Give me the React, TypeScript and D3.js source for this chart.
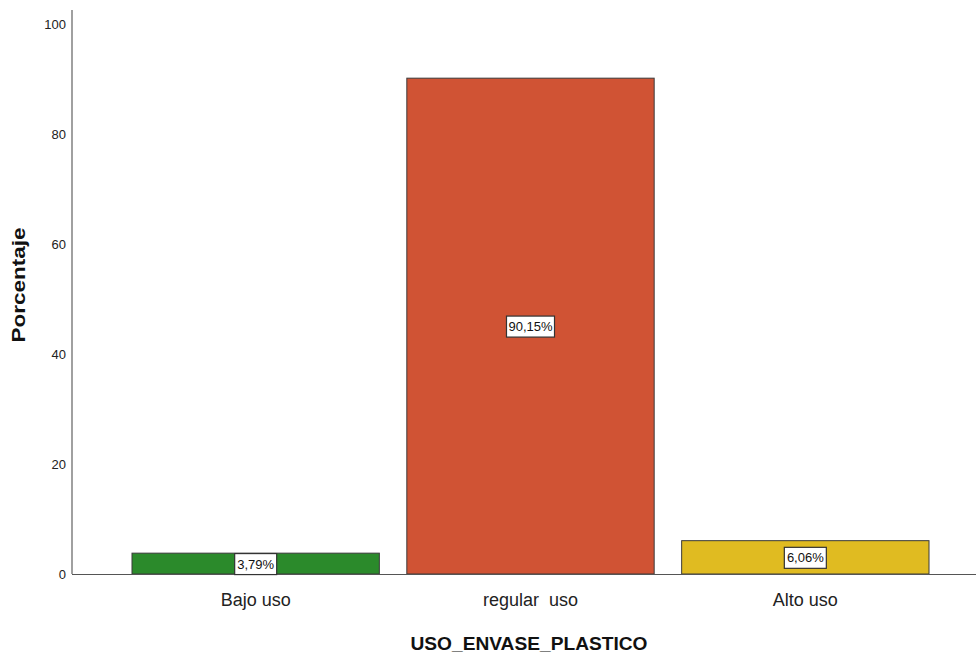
import React from "react";
import * as d3 from "d3";

const categories = ["Bajo uso", "regular  uso", "Alto uso"];
const percentages = [3.79, 90.15, 6.06];
const percentLabels = ["3,79%", "90,15%", "6,06%"];
const barColors = ["#2b8a2b", "#d05334", "#e0bb21"];
const yTicks = [0, 20, 40, 60, 80, 100];

const W = 976;
const H = 658;

export default function App() {
  const x = d3.scaleBand<string>().domain(categories).range([132, 929]).paddingInner(0.1).paddingOuter(0);
  const y = d3.scaleLinear().domain([0, 100]).range([574, 24]);
  const axisX = 72;
  const sans = "'Liberation Sans', Arial, sans-serif";

  return (
    <svg width={W} height={H} style={{ position: "absolute", left: 0, top: 0, background: "#fff" }}>
      <rect x={0} y={0} width={W} height={H} fill="#fff" />
      {/* bars */}
      {categories.map((c, i) => (
        <rect
          key={c}
          x={x(c)!}
          y={y(percentages[i])}
          width={x.bandwidth()}
          height={y(0) - y(percentages[i])}
          fill={barColors[i]}
          stroke="#3a3a3a"
          strokeWidth={1}
        />
      ))}
      {/* axes */}
      <line x1={axisX} x2={axisX} y1={10} y2={y(0)} stroke="#a0a0a0" strokeWidth={2} />
      <line x1={axisX} x2={W} y1={y(0) + 0.5} y2={y(0) + 0.5} stroke="#555" strokeWidth={1} />
      {yTicks.map((t) => (
        <text key={t} x={66} y={y(t)} dy="0.35em" textAnchor="end" fontFamily={sans} fontSize={13} fill="#222">
          {t}
        </text>
      ))}
      {categories.map((c) => (
        <text
          key={c}
          x={x(c)! + x.bandwidth() / 2}
          y={606}
          textAnchor="middle"
          fontFamily={sans}
          fontSize={18}
          fill="#222"
          xmlSpace="preserve"
        >
          {c}
        </text>
      ))}
      {/* value labels */}
      {categories.map((c, i) => {
        const cx = x(c)! + x.bandwidth() / 2;
        const cy = (y(percentages[i]) + y(0)) / 2;
        const bw = percentLabels[i].length > 5 ? 48 : 42;
        return (
          <g key={c}>
            <rect x={cx - bw / 2} y={cy - 10} width={bw} height={21} fill="#fff" stroke="#333" strokeWidth={1.2} />
            <text x={cx} y={cy + 0.5} dy="0.35em" textAnchor="middle" fontFamily={sans} fontSize={13} fill="#111">
              {percentLabels[i]}
            </text>
          </g>
        );
      })}
      {/* axis titles */}
      <text
        x={529}
        y={650}
        textAnchor="middle"
        fontFamily={sans}
        fontWeight="bold"
        fontSize={19}
        textLength={237}
        lengthAdjust="spacingAndGlyphs"
        fill="#111"
      >
        USO_ENVASE_PLASTICO
      </text>
      <text
        transform={`translate(25, ${285}) rotate(-90)`}
        textAnchor="middle"
        fontFamily={sans}
        fontWeight="bold"
        fontSize={19}
        textLength={115}
        lengthAdjust="spacingAndGlyphs"
        fill="#111"
      >
        Porcentaje
      </text>
    </svg>
  );
}
